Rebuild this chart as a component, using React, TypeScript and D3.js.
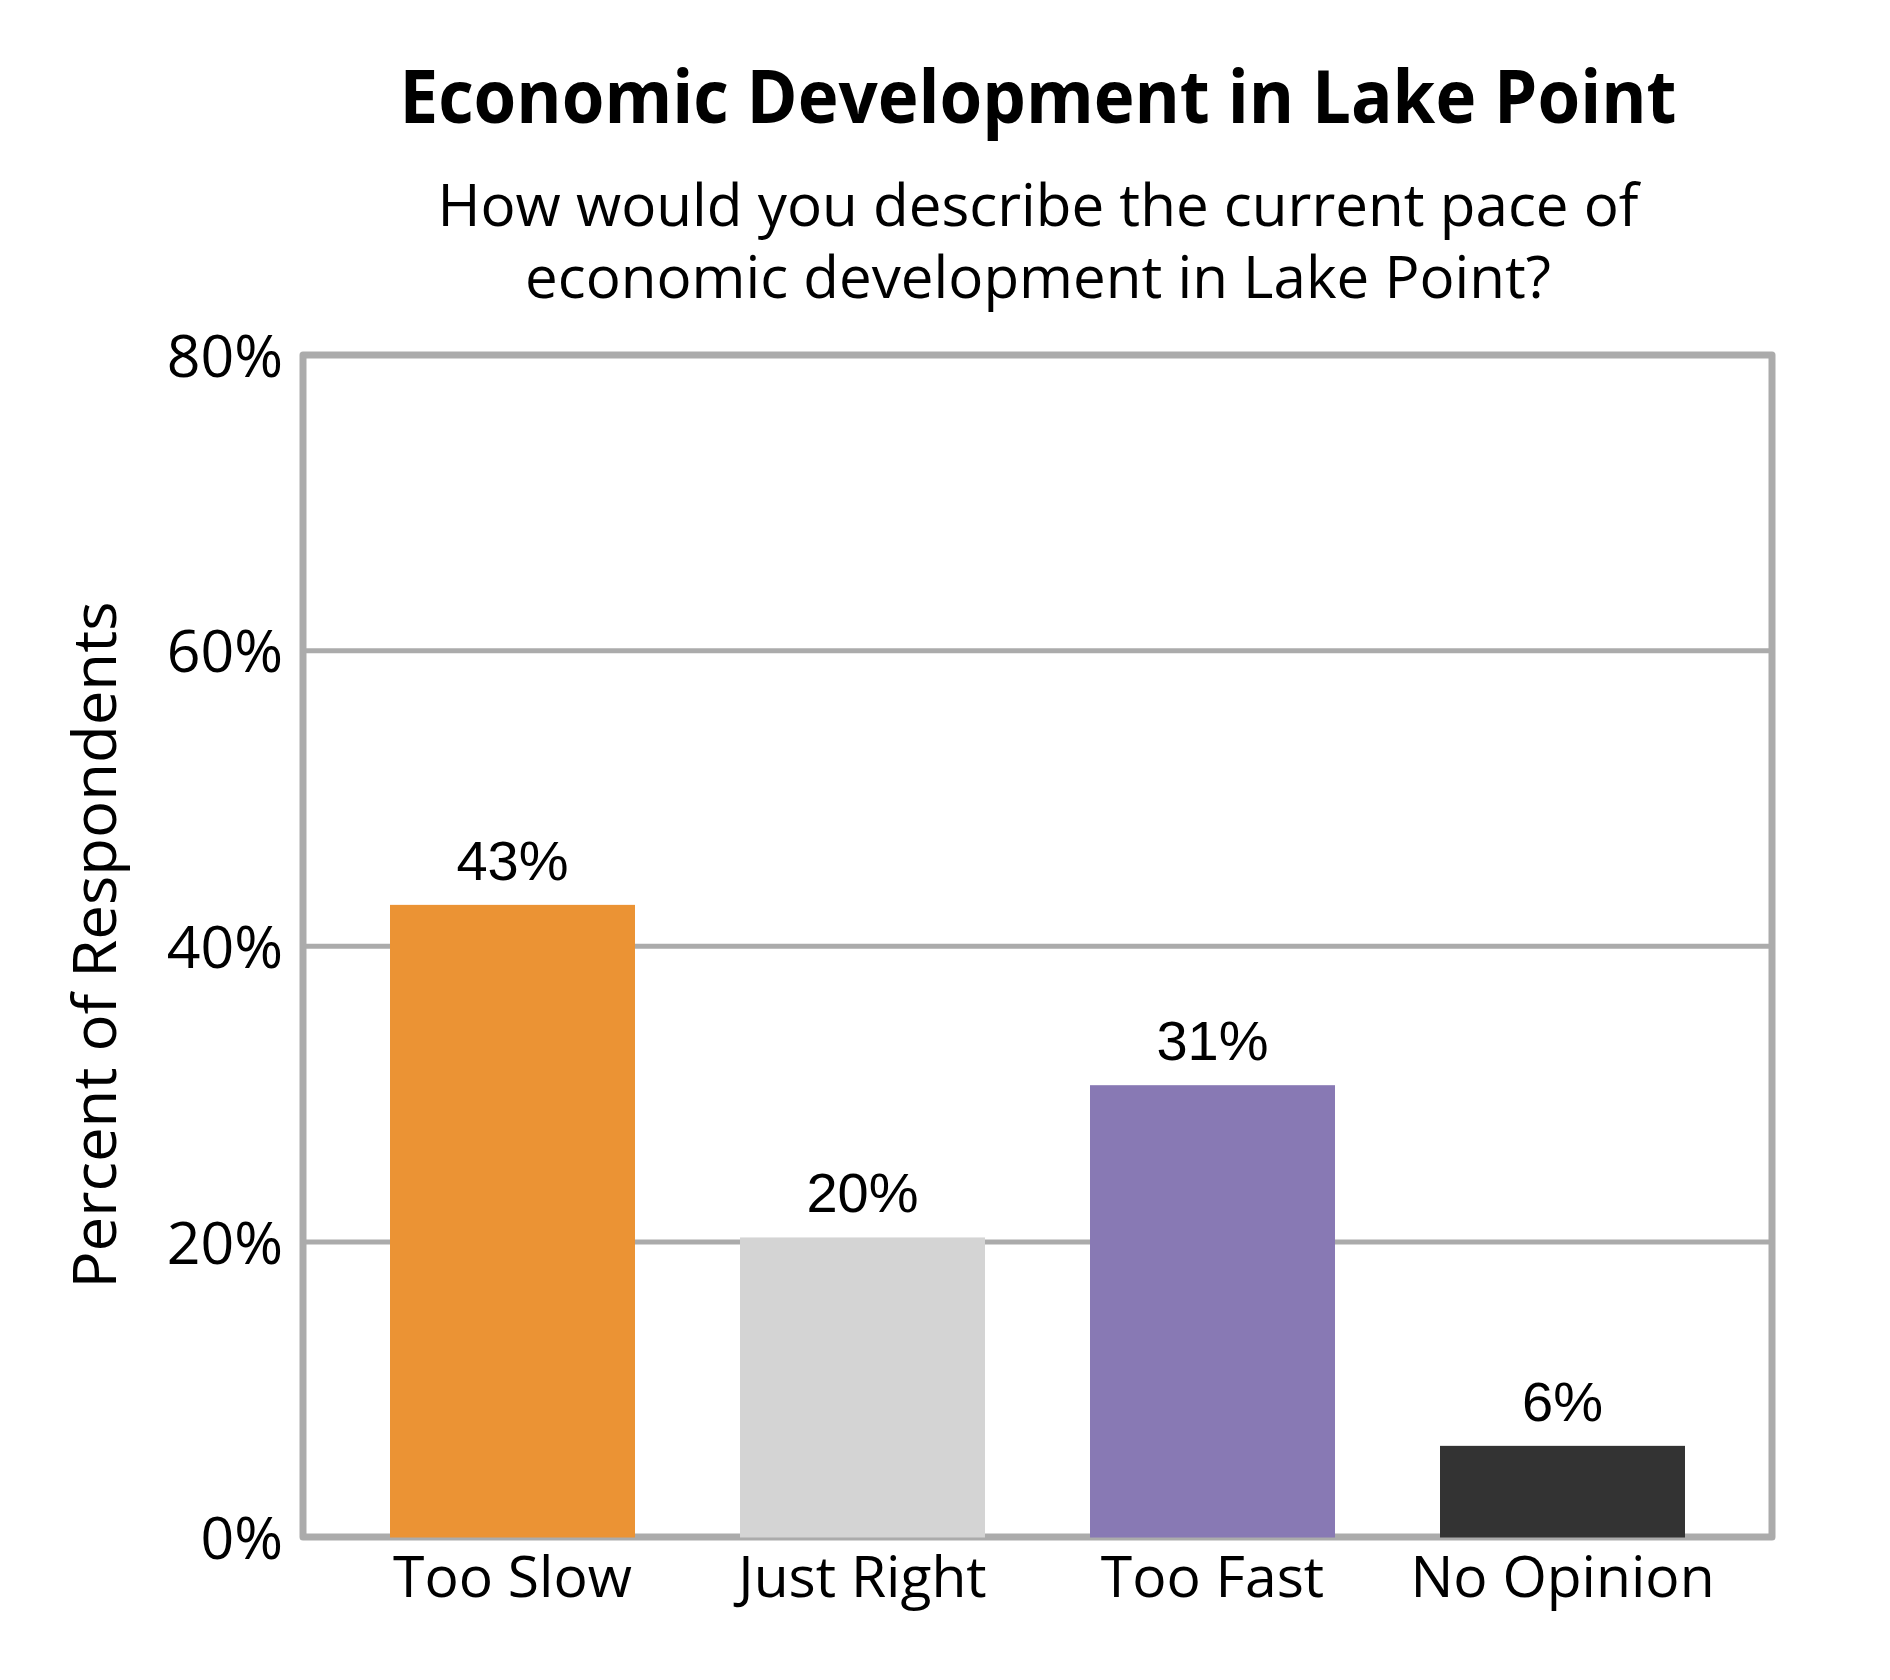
import React, { useEffect, useRef } from 'react';
import * as d3 from 'd3';

const categories = ['Too Slow', 'Just Right', 'Too Fast', 'No Opinion'];
const percentValues = [42.8, 20.3, 30.6, 6.2];
const barColors = ['#EB9334', '#D4D4D4', '#8879B4', '#333333'];
const yTicks = [0, 20, 40, 60, 80];
const titleText = 'Economic Development in Lake Point';
const subtitleLines = ['How would you describe the current pace of', 'economic development in Lake Point?'];
const yAxisTitle = 'Percent of Respondents';

const width = 1890;
const height = 1680;
const margin = { top: 355, right: 118, bottom: 143, left: 303 };
const gridColor = '#ababab';
const labelFont = '"Open Sans", "DejaVu Sans", sans-serif';

const App: React.FC = () => {
    const svgRef = useRef<SVGSVGElement>(null);

    useEffect(() => {
        if (!svgRef.current) return;
        const svg = d3.select(svgRef.current);
        svg.selectAll('*').remove();

        const plotRight = width - margin.right;
        const plotBottom = height - margin.bottom;

        const x = d3.scaleBand<string>()
            .domain(categories)
            .range([margin.left + 3, plotRight - 3])
            .paddingInner(0.3)
            .paddingOuter(0.24);

        const y = d3.scaleLinear()
            .domain([0, 80])
            .range([plotBottom + 0.5, margin.top]);

        svg.append('rect')
            .attr('width', width)
            .attr('height', height)
            .attr('fill', '#ffffff');

        // Title + subtitle (Calibri-like widths via textLength)
        svg.append('text')
            .attr('x', 1038)
            .attr('y', 123)
            .attr('text-anchor', 'middle')
            .attr('font-family', labelFont)
            .attr('font-weight', 700)
            .attr('font-size', 74)
            .attr('textLength', 1277)
            .attr('lengthAdjust', 'spacingAndGlyphs')
            .attr('fill', '#000')
            .text(titleText);

        const subLengths = [1201, 1026];
        svg.selectAll('.subtitle')
            .data(subtitleLines)
            .enter()
            .append('text')
            .attr('class', 'subtitle')
            .attr('x', 1038)
            .attr('y', (d, i) => 226 + i * 72)
            .attr('text-anchor', 'middle')
            .attr('font-family', labelFont)
            .attr('font-size', 58)
            .attr('textLength', (d, i) => subLengths[i])
            .attr('lengthAdjust', 'spacingAndGlyphs')
            .attr('fill', '#000')
            .text(d => d);

        // Gridlines
        svg.append('g')
            .selectAll('line')
            .data(yTicks.filter(t => t > 0 && t < 80))
            .enter()
            .append('line')
            .attr('x1', margin.left)
            .attr('x2', plotRight)
            .attr('y1', d => y(d))
            .attr('y2', d => y(d))
            .attr('stroke', gridColor)
            .attr('stroke-width', 5);

        // Plot frame
        svg.append('rect')
            .attr('x', margin.left)
            .attr('y', margin.top)
            .attr('width', plotRight - margin.left)
            .attr('height', plotBottom - margin.top)
            .attr('fill', 'none')
            .attr('stroke', gridColor)
            .attr('stroke-width', 7)
            .attr('stroke-linejoin', 'round');

        // Bars
        svg.append('g')
            .selectAll('rect')
            .data(categories)
            .enter()
            .append('rect')
            .attr('x', d => x(d) as number)
            .attr('y', (d, i) => y(percentValues[i]))
            .attr('width', x.bandwidth())
            .attr('height', (d, i) => y(0) - y(percentValues[i]))
            .attr('fill', (d, i) => barColors[i]);

        // Value labels
        svg.append('g')
            .selectAll('text')
            .data(categories)
            .enter()
            .append('text')
            .attr('x', d => (x(d) as number) + x.bandwidth() / 2)
            .attr('y', (d, i) => y(percentValues[i]) - 25)
            .attr('text-anchor', 'middle')
            .attr('font-family', '"Liberation Sans", Arial, sans-serif')
            .attr('font-size', 56)
            .attr('fill', '#000')
            .text((d, i) => `${Math.round(percentValues[i])}%`);

        // Y axis labels
        const yAxis = d3.axisLeft(y)
            .tickValues(yTicks)
            .tickFormat(d => `${d}%`)
            .tickSize(0)
            .tickPadding(20);

        const yAxisGroup = svg.append('g')
            .attr('transform', `translate(${margin.left},0)`)
            .call(yAxis);
        yAxisGroup.select('.domain').remove();
        yAxisGroup.selectAll('text')
            .attr('dy', '0.36em')
            .attr('font-family', labelFont)
            .attr('font-size', 59)
            .attr('fill', '#000');

        // X axis labels
        const xAxis = d3.axisBottom(x).tickSize(0);
        const xAxisGroup = svg.append('g')
            .attr('transform', `translate(0,${plotBottom})`)
            .call(xAxis);
        xAxisGroup.select('.domain').remove();
        xAxisGroup.selectAll('text')
            .attr('y', 60)
            .attr('dy', 0)
            .attr('font-family', labelFont)
            .attr('font-size', 57)
            .attr('fill', '#000');

        // Y axis title
        svg.append('text')
            .attr('transform', `translate(116,${(margin.top + plotBottom) / 2 - 1}) rotate(-90)`)
            .attr('text-anchor', 'middle')
            .attr('font-family', labelFont)
            .attr('font-size', 60)
            .attr('textLength', 687)
            .attr('lengthAdjust', 'spacingAndGlyphs')
            .attr('fill', '#000')
            .text(yAxisTitle);
    }, []);

    return (
        <svg
            ref={svgRef}
            width={width}
            height={height}
            style={{ position: 'absolute', left: 0, top: 0, display: 'block' }}
        />
    );
};

export default App;
